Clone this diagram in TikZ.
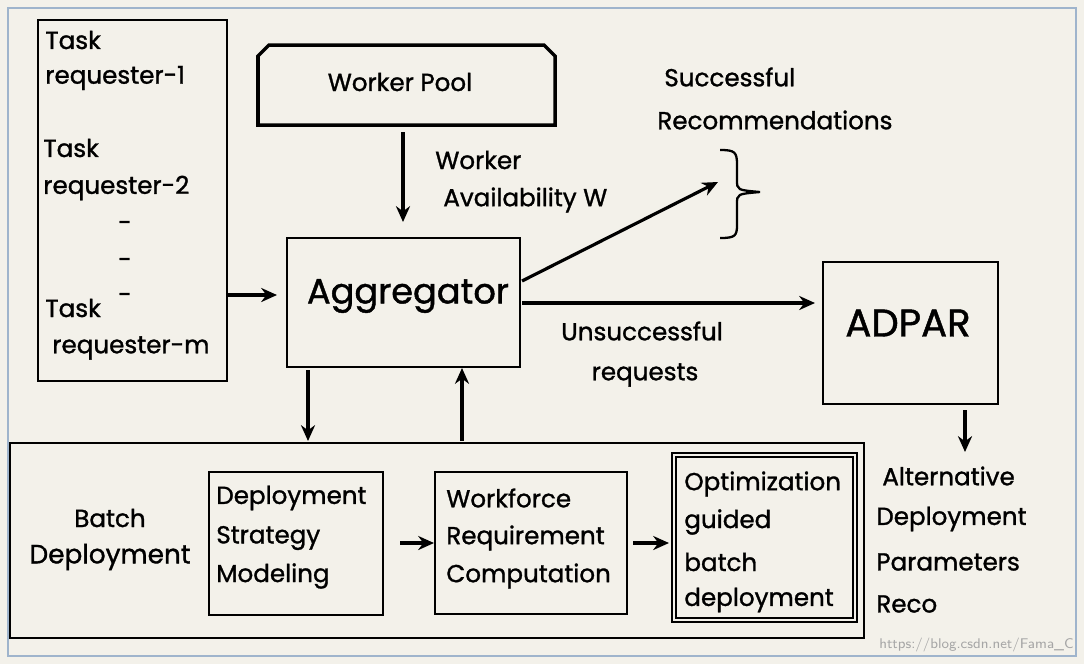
\documentclass[tikz,border=0pt]{standalone}
\usepackage{fontspec}
\setmainfont{Poppins}[FakeBold=1.2]
\usetikzlibrary{arrows.meta}
\definecolor{bg}{HTML}{F3F1EA}
\definecolor{frame}{HTML}{9FB4CC}
\begin{document}
\begin{tikzpicture}[x=0.02cm,y=-0.02cm,
  box/.style={draw=black,line width=1.3pt},
  arr/.style={-{Stealth[length=9pt,width=8pt]},line width=1.8pt},
  t/.style={font=\fontsize{14}{16}\selectfont,anchor=west,inner sep=0pt},
  tc/.style={font=\fontsize{14}{16}\selectfont,inner sep=0pt}]
\useasboundingbox (0,0) rectangle (1084,664);
\fill[bg] (0,0) rectangle (1084,664);
\draw[frame,line width=1.2pt] (8,8) rectangle (1076,656);
% task requesters
\draw[box] (38,20) rectangle (227,381);
\node[t] (t1) at (45,40) {Task};
\node[t] (t2) at (45,78) {requester-1};
\node[t] (t3) at (43,148) {Task};
\node[t] (t4) at (43,188) {requester-2};
\node[tc] (d1) at (125,226) {-};
\node[tc] (d2) at (125,263) {-};
\node[tc] (d3) at (125,298) {-};
\node[t] (t5) at (45,308) {Task};
\node[t] (t6) at (52,348) {requester-m};
\coordinate (trr) at (228,295);
% worker pool
\draw[line width=2pt] (258,125) -- (258,56) -- (269,45) -- (544,45) -- (555,56) -- (555,125) -- cycle;
\node[tc] (wp) at (400,82) {Worker Pool};
\coordinate (wpb) at (403,132);
% aggregator
\draw[box] (287,238) rectangle (520,367);
\node[tc,font=\fontsize{20}{24}\selectfont] (agg) at (408,296) {Aggregator};
\coordinate (wpa) at (403,222);
\draw[arr] (wpb) -- (wpa);
\node[t] (wl1) at (435,160) {Worker};
\node[t] (wl2) at (443,200) {Availability W};
\coordinate (aggl) at (277,295);
\draw[arr] (trr) -- (aggl);
% successful
\coordinate (ar1) at (522,281);
\coordinate (br) at (718,182);
\draw[arr] (ar1) -- (br);
\draw[line width=1.3pt] (720,150) .. controls (735,150) and (737,152) .. (737,165) -- (737,180) .. controls (737,190) .. (760,192)
   (760,192) .. controls (737,194) .. (737,204) -- (737,225) .. controls (737,236) and (735,238) .. (720,238);
\node[t] (s1) at (664,77) {Successful};
\node[t] (s2) at (657,120) {Recommendations};
% adpar
\draw[box] (823,262) rectangle (998,404);
\node[tc,font=\fontsize{22}{26}\selectfont] (adp) at (908,323) {ADPAR};
\coordinate (ar2) at (522,303);
\coordinate (adl) at (815,303);
\draw[arr] (ar2) -- (adl);
\node[tc] (u1) at (642,331) {Unsuccessful};
\node[tc] (u2) at (645,375) {requests};
\coordinate (adb) at (965,410);
\coordinate (alt) at (965,452);
\draw[arr] (adb) -- (alt);
\node[t] (a1) at (882,476) {Alternative};
\node[t] (a2) at (876,519) {Deployment};
\node[t] (a3) at (876,562) {Parameters};
\node[t] (a4) at (876,604) {Reco};
% bottom
\draw[box] (10,443) rectangle (864,638);
\coordinate (aggb) at (308,370);
\coordinate (bt1) at (308,441);
\draw[arr] (aggb) -- (bt1);
\coordinate (bt2) at (462,441);
\coordinate (aggb2) at (462,368);
\draw[arr] (bt2) -- (aggb2);
\node[tc] (b1) at (110,518) {Batch};
\node[tc,font=\fontsize{15}{18}\selectfont] (b2) at (110,557) {Deployment};
\draw[box] (209,472) rectangle (383,615);
\node[t] (m1) at (216,498) {Deployment};
\node[t] (m2) at (216,538) {Strategy};
\node[t] (m3) at (216,576) {Modeling};
\draw[box] (435,472) rectangle (627,614);
\node[t] (w1) at (446,498) {Workforce};
\node[t] (w2) at (446,538) {Requirement};
\node[t] (w3) at (446,576) {Computation};
\draw[box] (672,453) rectangle (857,622);
\draw[line width=0.6pt] (676,457) rectangle (853,618);
\node[t] (o1) at (684,484) {Optimization};
\node[t] (o2) at (684,522) {guided};
\node[t] (o3) at (684,562) {batch};
\node[t] (o4) at (684,600) {deployment};
\coordinate (c1) at (400,543);
\coordinate (c2) at (434,543);
\draw[arr] (c1) -- (c2);
\coordinate (c3) at (633,543);
\coordinate (c4) at (669,543);
\draw[arr] (c3) -- (c4);
\node[anchor=east,inner sep=0pt,text=gray!70,font=\fontsize{8}{9}\selectfont\sffamily] (wm) at (1074,645) {https://blog.csdn.net/Fama\_C};
\end{tikzpicture}
\end{document}
